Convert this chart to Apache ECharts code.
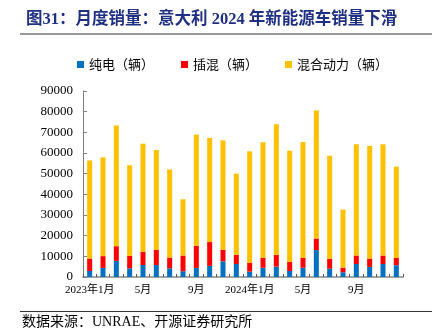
<!DOCTYPE html>
<html>
<head>
<meta charset="utf-8">
<script src="https://cdn.jsdelivr.net/npm/echarts@6/dist/echarts.min.js"></script>
<style>
  html, body { margin: 0; padding: 0; background: #fff; }
  #chart { width: 441px; height: 330px; }
</style>
</head>
<body>
<div id="chart"></div>
<script>
// Monthly Italian new-energy vehicle sales, Jan 2023 – Dec 2024 (units)
const months = [
  '2023年1月','2月','3月','4月','5月','6月','7月','8月','9月','10月','11月','12月',
  '2024年1月','2月','3月','4月','5月','6月','7月','8月','9月','10月','11月','12月'
];
const bev  = [2900, 4400, 7800, 4200, 5800, 5800, 4200, 2800, 4400, 5400, 7600, 6300,
              2600, 4500, 5000, 2900, 4500, 13000, 4000, 2300, 6300, 4900, 6300, 5700];
const phev = [6000, 5700, 7100, 6000, 6400, 7300, 5200, 7600, 10700, 11500, 5500, 4400,
              4200, 4700, 5700, 4400, 4700, 5600, 4800, 2200, 4100, 4000, 4100, 3500];
const hev  = [47500, 47800, 58400, 43900, 52300, 48300, 42600, 27200, 53800, 50400, 53000, 39300,
              54000, 56000, 63200, 53800, 56100, 62000, 49900, 28100, 53800, 54500, 53800, 44200];
const yTicks = { min: 0, max: 90000, interval: 10000 };

const serif = "'Liberation Serif', 'Noto Sans CJK SC', serif";
const cjk = "'Noto Sans CJK SC', sans-serif";

const chart = echarts.init(document.getElementById('chart'), null, { renderer: 'canvas' });
chart.setOption({
  animation: false,
  backgroundColor: '#fff',
  title: {
    text: '图31：月度销量：意大利 2024 年新能源车销量下滑',
    left: 21, top: 6,
    textStyle: { fontFamily: serif, fontWeight: 'bold', fontSize: 16.5, color: '#1f2f82' }
  },
  legend: {
    left: 72, top: 53,
    itemWidth: 7, itemHeight: 7, itemGap: 27,
    icon: 'rect',
    textStyle: { fontFamily: cjk, fontSize: 13, color: '#000' },
    data: ['纯电（辆）', '插混（辆）', '混合动力（辆）']
  },
  grid: { left: 83, right: 38, top: 91, bottom: 53 },
  xAxis: {
    type: 'category',
    data: months,
    axisLine: { lineStyle: { color: '#a6a6a6', width: 2 } },
    axisTick: { show: true, inside: true, length: 3, interval: 0, lineStyle: { color: '#555' } },
    axisLabel: {
      interval: 3, margin: 8,
      fontFamily: serif, fontSize: 11, color: '#000',
      formatter: (v, i) => [0, 4, 8, 12, 16, 20].includes(i) ? v : ''
    }
  },
  yAxis: {
    type: 'value',
    min: yTicks.min, max: yTicks.max, interval: yTicks.interval,
    axisLine: { show: true, lineStyle: { color: '#7f7f7f', width: 1 } },
    axisTick: { show: true, inside: true, length: 4, lineStyle: { color: '#7f7f7f' } },
    splitLine: { show: false },
    axisLabel: { fontFamily: serif, fontSize: 13, color: '#000', margin: 10,
                 formatter: v => String(v) }
  },
  series: [
    { name: '纯电（辆）', type: 'bar', stack: 'total', data: bev, barWidth: 5,
      itemStyle: { color: '#0070c0' } },
    { name: '插混（辆）', type: 'bar', stack: 'total', data: phev, barWidth: 5,
      itemStyle: { color: '#ff0000' } },
    { name: '混合动力（辆）', type: 'bar', stack: 'total', data: hev, barWidth: 5,
      itemStyle: { color: '#ffc000' } }
  ],
  graphic: [
    { type: 'line', shape: { x1: 20, y1: 34, x2: 432, y2: 34 },
      style: { stroke: '#333', lineWidth: 1 } },
    { type: 'line', shape: { x1: 20, y1: 311.5, x2: 432, y2: 311.5 },
      style: { stroke: '#333', lineWidth: 1 } },
    { type: 'text', left: 22, top: 315,
      style: { text: '数据来源：UNRAE、开源证券研究所', font: "14px 'Liberation Serif', 'Noto Sans CJK SC'", fill: '#000' } }
  ]
});
</script>
</body>
</html>
